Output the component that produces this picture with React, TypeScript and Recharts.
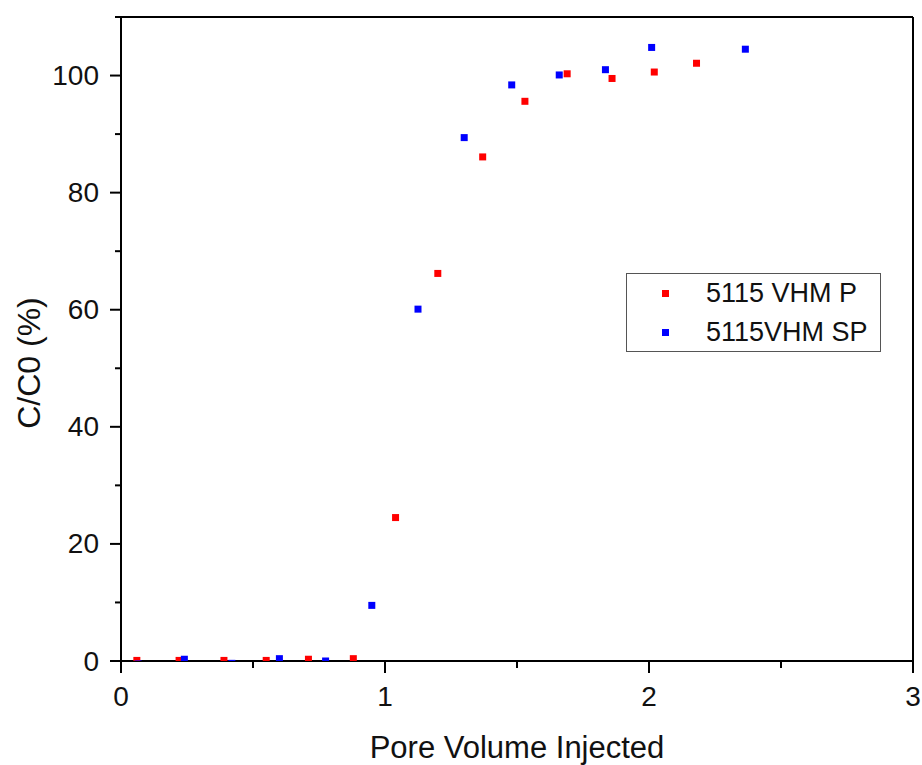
import React from "react";
import {
  ScatterChart,
  Scatter,
  XAxis,
  YAxis,
  Legend,
  ReferenceLine,
} from "recharts";

const FONT = "'Liberation Sans', Arial, sans-serif";
const NARROW = "'Liberation Sans Narrow', 'Arial Narrow', 'Liberation Sans', sans-serif";

// pore volume injected / C/C0 (%)
const pvP = [0.06, 0.22, 0.39, 0.55, 0.71, 0.88, 1.04, 1.2, 1.37, 1.53, 1.69, 1.86, 2.02, 2.18];
const ccP = [0.1, 0.1, 0.1, 0.1, 0.3, 0.4, 24.5, 66.2, 86.1, 95.6, 100.3, 99.5, 100.6, 102.1];
const pvSP = [0.065, 0.24, 0.42, 0.6, 0.775, 0.95, 1.125, 1.3, 1.48, 1.66, 1.835, 2.01, 2.19, 2.365];
const ccSP = [-0.5, 0.3, -0.4, 0.4, 0.0, 9.5, 60.1, 89.4, 98.4, 100.1, 101.0, 104.8, -0.6, 104.5];

const xTicks = [0, 0.5, 1, 1.5, 2, 2.5, 3];
const yTicks = [0, 10, 20, 30, 40, 50, 60, 70, 80, 90, 100, 110];

const seriesP = pvP.map((pv, i) => ({ pv, cc: ccP[i] }));
const seriesSP = pvSP.map((pv, i) => ({ pv, cc: ccSP[i] }));

const XTick = (props: any) => {
  const { x, y, payload } = props;
  const major = Number.isInteger(payload.value);
  return (
    <g>
      <line x1={x} x2={x} y1={y} y2={y + (major ? 12 : 7)} stroke="#000" strokeWidth={2} />
      {major && (
        <text x={x} y={y + 45} textAnchor="middle" fontSize={28} fontFamily={NARROW} fill="#111">
          {payload.value}
        </text>
      )}
    </g>
  );
};

const YTick = (props: any) => {
  const { x, y, payload } = props;
  const major = payload.value % 20 === 0;
  return (
    <g>
      <line x1={x} x2={x - (major ? 11 : 6)} y1={y} y2={y} stroke="#000" strokeWidth={2} />
      {major && (
        <text
          x={x - 22}
          y={y}
          textAnchor="end"
          dominantBaseline="central"
          fontSize={28}
          fontFamily={NARROW}
          fill="#111"
        >
          {payload.value}
        </text>
      )}
    </g>
  );
};

const square = (color: string) => (p: any) =>
  <rect x={p.cx - 3.5} y={p.cy - 3.5} width={7} height={7} fill={color} />;

const renderLegend = (props: any) => (
  <div
    style={{
      width: 255,
      height: 79,
      boxSizing: "border-box",
      border: "1px solid #555",
      background: "#fff",
      fontFamily: FONT,
    }}
  >
    {props.payload.map((entry: any) => (
      <div key={entry.value} style={{ height: 39, display: "flex", alignItems: "center" }}>
        <span
          style={{ width: 7, height: 7, background: entry.color, marginLeft: 35, display: "inline-block" }}
        />
        <span style={{ marginLeft: 37, fontSize: 27, color: "#111" }}>{entry.value}</span>
      </div>
    ))}
  </div>
);

export default function App() {
  return (
    <div style={{ position: "absolute", left: 0, top: 0, background: "#fff" }}>
      <ScatterChart width={922} height={765} margin={{ top: 17, right: 9, bottom: 0, left: 0 }}>
        <XAxis
          type="number"
          dataKey="pv"
          domain={[0, 3]}
          ticks={xTicks}
          interval={0}
          allowDataOverflow
          height={104}
          tickSize={0}
          tickMargin={0}
          tickLine={false}
          tick={<XTick />}
          axisLine={{ stroke: "#000", strokeWidth: 2 }}
          label={{
            content: (p: any) => (
              <text
                x={p.viewBox.x + p.viewBox.width / 2}
                y={p.viewBox.y + 97}
                textAnchor="middle"
                fontSize={31}
                fontFamily={FONT}
                fill="#111"
              >
                Pore Volume Injected
              </text>
            ),
          }}
        />
        <YAxis
          type="number"
          dataKey="cc"
          domain={[0, 110]}
          ticks={yTicks}
          interval={0}
          allowDataOverflow
          width={121}
          tickSize={0}
          tickMargin={0}
          tickLine={false}
          tick={<YTick />}
          axisLine={{ stroke: "#000", strokeWidth: 2 }}
          label={{
            content: (p: any) => {
              const cx = p.viewBox.x + 29;
              const cy = p.viewBox.y + p.viewBox.height / 2 + 24;
              return (
                <text
                  x={cx}
                  y={cy}
                  transform={`rotate(-90 ${cx} ${cy})`}
                  textAnchor="middle"
                  dominantBaseline="central"
                  fontSize={32}
                  fontFamily={FONT}
                  fill="#111"
                >
                  C/C0 (%)
                </text>
              );
            },
          }}
        />
        <ReferenceLine y={110} stroke="#000" strokeWidth={2} />
        <ReferenceLine x={3} stroke="#000" strokeWidth={2} />
        <Legend
          layout="vertical"
          verticalAlign="middle"
          align="center"
          wrapperStyle={{ left: 626, top: 273, width: 255 }}
          content={renderLegend}
        />
        <Scatter
          name="5115 VHM P"
          data={seriesP}
          fill="#ff0000"
          legendType="square"
          shape={square("#ff0000")}
          isAnimationActive={false}
        />
        <Scatter
          name="5115VHM SP"
          data={seriesSP}
          fill="#0000ff"
          legendType="square"
          shape={square("#0000ff")}
          isAnimationActive={false}
        />
      </ScatterChart>
    </div>
  );
}
